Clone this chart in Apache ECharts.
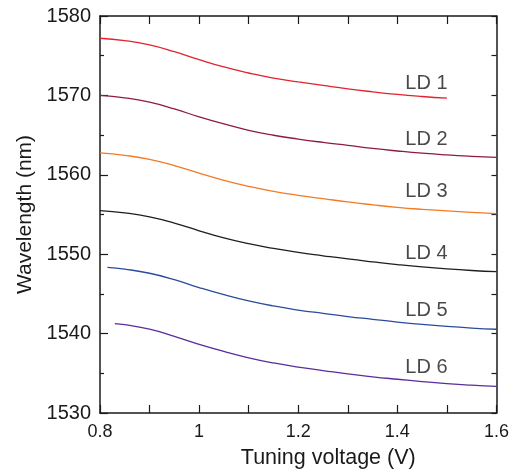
<!DOCTYPE html>
<html>
<head>
<meta charset="utf-8">
<script src="https://cdn.jsdelivr.net/npm/echarts@6/dist/echarts.min.js"></script>
<style>html,body{margin:0;padding:0;background:#fff}#c{width:512px;height:474px}</style>
</head>
<body>
<div id="c"></div>
<script>
// Tuning voltage (V) grids
const voltage = [0.8, 0.85, 0.9, 0.95, 1.0, 1.05, 1.1, 1.15, 1.2, 1.25, 1.3, 1.35, 1.4, 1.45, 1.5, 1.55, 1.6];
const voltageLD1 = [0.8, 0.85, 0.9, 0.95, 1.0, 1.05, 1.1, 1.15, 1.2, 1.25, 1.3, 1.35, 1.4, 1.45, 1.5];
const voltageLD5 = [0.815, 0.85, 0.9, 0.95, 1.0, 1.05, 1.1, 1.15, 1.2, 1.25, 1.3, 1.35, 1.4, 1.45, 1.5, 1.55, 1.6];
const voltageLD6 = [0.83, 0.85, 0.9, 0.95, 1.0, 1.05, 1.1, 1.15, 1.2, 1.25, 1.3, 1.35, 1.4, 1.45, 1.5, 1.55, 1.6];

// Wavelength (nm)
const ld1 = [1577.2, 1576.9, 1576.35, 1575.5, 1574.5, 1573.58, 1572.82, 1572.18, 1571.7, 1571.25, 1570.82, 1570.45, 1570.12, 1569.86, 1569.65];
const ld2 = [1570.0, 1569.7, 1569.15, 1568.3, 1567.3, 1566.4, 1565.6, 1564.98, 1564.5, 1564.08, 1563.7, 1563.32, 1563.0, 1562.72, 1562.5, 1562.33, 1562.2];
const ld3 = [1562.75, 1562.45, 1561.95, 1561.15, 1560.2, 1559.3, 1558.55, 1557.92, 1557.42, 1557.0, 1556.58, 1556.22, 1555.9, 1555.65, 1555.45, 1555.27, 1555.1];
const ld4 = [1555.5, 1555.2, 1554.7, 1553.92, 1552.95, 1552.05, 1551.32, 1550.72, 1550.22, 1549.8, 1549.4, 1549.04, 1548.7, 1548.4, 1548.15, 1547.95, 1547.8];
const ld5 = [1548.35, 1548.12, 1547.6, 1546.8, 1545.8, 1544.9, 1544.12, 1543.48, 1542.97, 1542.55, 1542.15, 1541.8, 1541.45, 1541.15, 1540.9, 1540.7, 1540.55];
const ld6 = [1541.25, 1541.12, 1540.55, 1539.65, 1538.65, 1537.75, 1536.95, 1536.3, 1535.78, 1535.35, 1534.92, 1534.56, 1534.25, 1533.96, 1533.7, 1533.5, 1533.35];

const seriesNames = ['LD 1', 'LD 2', 'LD 3', 'LD 4', 'LD 5', 'LD 6'];
const labelVoltage = 1.416;
const labelWavelength = [1571.55, 1564.45, 1557.85, 1550.1, 1542.85, 1535.75];

const xTicks = [0.8, 1.0, 1.2, 1.4, 1.6];
const yTicks = [1530, 1540, 1550, 1560, 1570, 1580];

const colors = ['#e0232e', '#8c1c44', '#f47a24', '#1e1e1e', '#2b4b9b', '#5b2d9c'];
const xs = [voltageLD1, voltage, voltage, voltage, voltageLD5, voltageLD6];
const ys = [ld1, ld2, ld3, ld4, ld5, ld6];

const FONT = '"Liberation Sans", Arial, Helvetica, sans-serif';
const chart = echarts.init(document.getElementById('c'), null, {renderer: 'canvas'});

const lineSeries = ys.map((w, i) => ({
  name: seriesNames[i],
  type: 'line',
  smooth: 0.5,
  showSymbol: false,
  symbol: 'none',
  lineStyle: {color: colors[i], width: 1.3},
  data: w.map((v, j) => [xs[i][j], v]),
  z: 3
}));

const labelSeries = {
  type: 'scatter',
  symbolSize: 0,
  silent: true,
  data: labelWavelength.map((w, i) => ({value: [labelVoltage, w], name: seriesNames[i]})),
  label: {
    show: true,
    position: 'right',
    distance: 0,
    formatter: p => p.name,
    color: '#1a1a1a',
    fontFamily: FONT,
    fontSize: 20,
    verticalAlign: 'middle'
  }
};

const axisLine = {show: true, lineStyle: {color: '#1a1a1a', width: 1.5}};

chart.setOption({
  animation: false,
  backgroundColor: '#ffffff',
  grid: {left: 100, top: 16, right: 13, bottom: 58, containLabel: false},
  xAxis: [
    {
      type: 'value', min: 0.8, max: 1.6, interval: 0.2,
      position: 'bottom',
      name: 'Tuning voltage (V)', nameLocation: 'middle', nameGap: 34,
      nameTextStyle: {fontFamily: FONT, fontSize: 21.5, color: '#1a1a1a', padding: [0, 0, 0, 60]},
      axisLine: axisLine,
      axisTick: {show: true, inside: true, length: 8, lineStyle: {color: '#1a1a1a', width: 1.2}},
      minorTick: {show: true, splitNumber: 2, length: 8, lineStyle: {color: '#1a1a1a', width: 1.2}},
      axisLabel: {fontFamily: FONT, fontSize: 18, color: '#1a1a1a', margin: 10,
        formatter: v => { const t = xTicks.find(k => Math.abs(k - v) < 1e-6); return t === undefined ? '' : String(t); }},
      splitLine: {show: false}
    },
    {
      type: 'value', min: 0.8, max: 1.6, interval: 0.2,
      position: 'top',
      axisLine: axisLine,
      axisTick: {show: true, inside: true, length: 8, lineStyle: {color: '#1a1a1a', width: 1.2}},
      minorTick: {show: true, splitNumber: 2, length: 8, lineStyle: {color: '#1a1a1a', width: 1.2}},
      axisLabel: {show: false},
      splitLine: {show: false}
    }
  ],
  yAxis: [
    {
      type: 'value', min: 1530, max: 1580, interval: 10,
      position: 'left',
      name: 'Wavelength (nm)', nameLocation: 'middle', nameGap: 63,
      nameTextStyle: {fontFamily: FONT, fontSize: 21, color: '#1a1a1a'},
      axisLine: axisLine,
      axisTick: {show: true, inside: true, length: 8, lineStyle: {color: '#1a1a1a', width: 1.2}},
      minorTick: {show: true, splitNumber: 2, length: 4, lineStyle: {color: '#1a1a1a', width: 1.2}},
      axisLabel: {fontFamily: FONT, fontSize: 20, color: '#1a1a1a', margin: 9,
        formatter: v => yTicks.includes(Math.round(v)) ? String(Math.round(v)) : ''},
      splitLine: {show: false}
    },
    {
      type: 'value', min: 1530, max: 1580, interval: 10,
      position: 'right',
      axisLine: axisLine,
      axisTick: {show: true, inside: true, length: 5, lineStyle: {color: '#1a1a1a', width: 1.2}},
      minorTick: {show: true, splitNumber: 2, length: 5, lineStyle: {color: '#1a1a1a', width: 1.2}},
      axisLabel: {show: false},
      splitLine: {show: false}
    }
  ],
  series: lineSeries.concat([labelSeries])
});
</script>
</body>
</html>
